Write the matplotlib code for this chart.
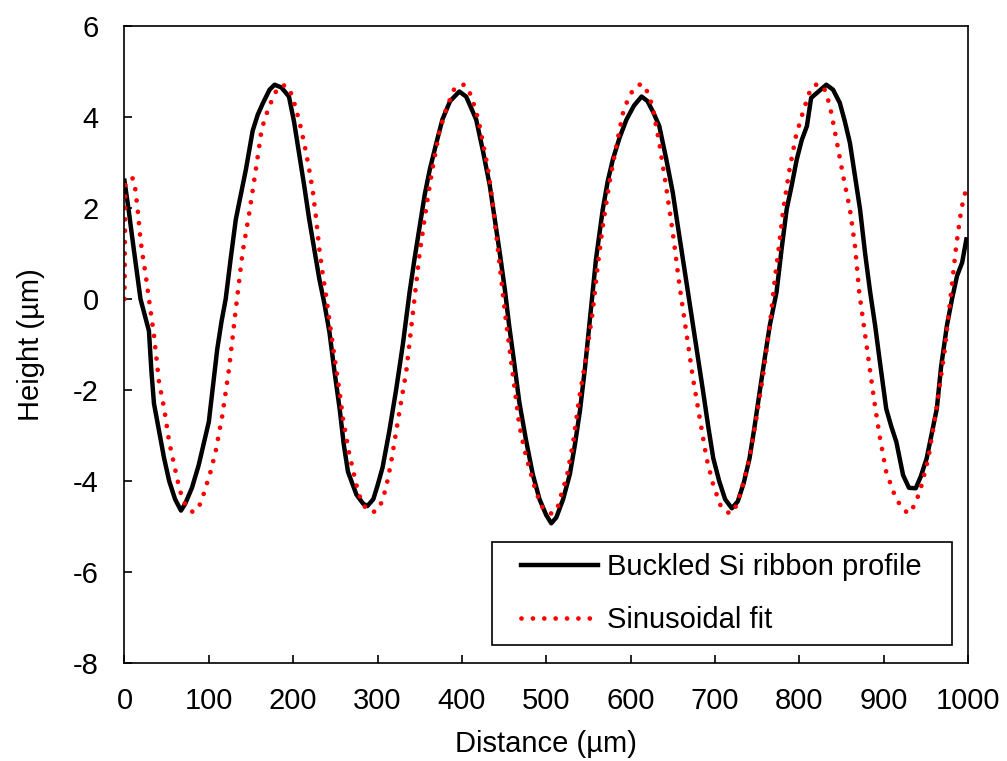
import matplotlib
matplotlib.use("Agg")
import matplotlib.pyplot as plt
from matplotlib.patches import Rectangle

plt.rcParams["font.family"] = ["Liberation Sans", "DejaVu Sans"]
plt.rcParams["axes.unicode_minus"] = False

profile_x = [0, 5, 11, 19, 29, 32, 35, 41, 47, 53, 60, 67, 72, 80, 88, 95, 100,
             105, 110, 115, 120, 126, 132, 138, 144, 152, 158, 164, 172, 178,
             186, 195, 201, 207, 213, 219, 225, 231, 237, 243, 249, 255, 260,
             265, 275, 283, 288, 295, 300, 306, 314, 322, 330, 338, 344, 350,
             356, 362, 370, 377, 386, 397, 405, 411, 417, 425, 433, 439, 445,
             451, 456, 462, 468, 476, 484, 492, 500, 506, 512, 520, 528, 534,
             540, 546, 551, 559, 567, 573, 579, 587, 595, 604, 613, 620, 627,
             634, 642, 650, 656, 662, 668, 674, 680, 686, 692, 698, 705, 712,
             720, 727, 734, 741, 747, 753, 759, 765, 773, 779, 785, 791, 797,
             803, 809, 814, 822, 832, 840, 848, 854, 860, 866, 872, 878, 884,
             890, 895, 903, 909, 915, 919, 923, 930, 938, 944, 951, 957, 963,
             968, 975, 981, 987, 993, 998]
profile_y = [2.6, 1.95, 1.1, 0.0, -0.7, -1.6, -2.3, -2.9, -3.5, -4.0, -4.4,
             -4.65, -4.5, -4.15, -3.65, -3.1, -2.7, -1.9, -1.1, -0.5, 0.0, 0.9,
             1.75, 2.3, 2.85, 3.7, 4.05, 4.3, 4.6, 4.71, 4.65, 4.45, 3.9, 3.2,
             2.5, 1.75, 1.1, 0.44, -0.1, -0.73, -1.6, -2.4, -3.2, -3.8, -4.3,
             -4.5, -4.55, -4.4, -4.1, -3.7, -2.9, -2.0, -1.0, 0.15, 0.9, 1.6,
             2.3, 2.85, 3.45, 3.95, 4.35, 4.56, 4.45, 4.2, 3.94, 3.25, 2.5,
             1.75, 1.0, 0.2, -0.58, -1.4, -2.26, -3.1, -3.85, -4.4, -4.75,
             -4.93, -4.8, -4.4, -3.85, -3.2, -2.45, -1.5, -0.58, 0.88, 1.97,
             2.6, 3.07, 3.55, 3.94, 4.25, 4.45, 4.35, 4.1, 3.8, 3.1, 2.34, 1.6,
             0.88, 0.15, -0.58, -1.3, -2.04, -2.8, -3.5, -4.0, -4.4, -4.6,
             -4.45, -4.05, -3.5, -2.8, -2.04, -1.3, -0.58, 0.15, 1.1, 1.97,
             2.5, 3.07, 3.5, 3.8, 4.42, 4.55, 4.71, 4.6, 4.31, 3.9, 3.43, 2.7,
             1.97, 1.0, 0.15, -0.6, -1.31, -2.41, -2.8, -3.14, -3.5, -3.87,
             -4.15, -4.16, -3.9, -3.5, -2.95, -2.41, -1.5, -0.58, 0.0, 0.51,
             0.8, 1.31]

# ── Sinusoidal fit ───────────────────────────────────────────────────────────
fit_x = [0, 1, 5, 10, 13, 16, 19, 22, 25, 29, 35, 41, 47, 53, 59, 65, 70, 76,
         81, 87, 92, 96, 102, 108, 116, 124, 132, 140, 148, 156, 162, 166, 172,
         181, 187, 193, 198, 203, 208, 213, 218, 223, 227, 231, 235, 239, 247,
         255, 259, 266, 275, 280, 286, 292, 298, 304, 310, 316, 322, 328, 334,
         342, 350, 358, 365, 373, 381, 391, 397, 403, 409, 415, 420, 425, 431,
         436, 444, 452, 460, 468, 474, 480, 488, 496, 502, 508, 514, 520, 524,
         532, 539, 547, 555, 561, 567, 575, 583, 591, 597, 603, 609, 614, 620,
         626, 634, 642, 650, 658, 666, 674, 682, 690, 698, 707, 713, 719, 725,
         731, 741, 749, 757, 765, 771, 775, 781, 788, 796, 804, 813, 818, 824,
         830, 836, 844, 852, 860, 866, 871, 877, 883, 889, 895, 903, 913, 920,
         929, 936, 943, 953, 962, 972, 980, 986, 992, 999]
fit_y = [0.0, 2.5, 2.65, 2.65, 2.4, 1.9, 1.3, 0.9, 0.55, 0.0, -0.8, -1.83,
         -2.4, -3.14, -3.65, -4.16, -4.45, -4.62, -4.68, -4.62, -4.4, -4.16,
         -3.8, -3.36, -2.56, -1.53, -0.22, 1.02, 1.9, 2.88, 3.65, 3.95, 4.25,
         4.62, 4.7, 4.68, 4.5, 4.2, 3.85, 3.43, 2.95, 2.41, 1.8, 1.1, 0.55,
         0.07, -1.02, -2.04, -2.63, -3.36, -4.09, -4.4, -4.6, -4.68, -4.67,
         -4.5, -4.16, -3.6, -2.92, -2.25, -1.6, -0.29, 1.02, 2.04, 2.85, 3.65,
         4.16, 4.62, 4.7, 4.71, 4.55, 4.23, 3.9, 3.43, 2.85, 2.19, 0.88,
         -0.44, -1.6, -2.77, -3.3, -3.72, -4.25, -4.6, -4.7, -4.72, -4.55,
         -4.15, -3.94, -3.14, -2.19, -1.31, -0.29, 0.73, 1.6, 2.56, 3.36,
         4.09, 4.4, 4.6, 4.7, 4.73, 4.55, 4.23, 3.43, 2.48, 1.46, 0.29, -0.73,
         -1.75, -2.63, -3.5, -4.09, -4.56, -4.67, -4.72, -4.55, -4.23, -3.5,
         -2.63, -1.68, -0.58, 0.44, 1.02, 1.97, 2.81, 3.58, 4.09, 4.6, 4.7,
         4.73, 4.6, 4.27, 3.5, 2.7, 1.97, 1.17, 0.15, -0.66, -1.46, -2.26,
         -2.99, -3.8, -4.31, -4.55, -4.72, -4.55, -4.23, -3.5, -2.48, -1.17,
         0.15, 1.17, 1.97, 2.52]

x_ticks = [0, 100, 200, 300, 400, 500, 600, 700, 800, 900, 1000]
y_ticks = [-8, -6, -4, -2, 0, 2, 4, 6]

FS = 21

fig = plt.figure(figsize=(10.07, 7.61), dpi=100)
ax = fig.add_axes([0.1236, 0.1288, 0.8377, 0.837])

ax.plot(profile_x, profile_y, color="black", lw=3.2,
        solid_joinstyle="round", label="Buckled Si ribbon profile")
ax.plot(fit_x, fit_y, color="#ff0000", lw=3.4,
        linestyle=(0, (0.01, 2.4)), dash_capstyle="round",
        label="Sinusoidal fit")

ax.set_xlim(0, 1000)
ax.set_ylim(-8, 6)
ax.set_xticks(x_ticks)
ax.set_yticks(y_ticks)
ax.tick_params(direction="in", length=6, width=1.2, labelsize=FS)
ax.tick_params(axis="x", pad=17)
ax.tick_params(axis="y", pad=18.5)
for s in ax.spines.values():
    s.set_linewidth(1.2)

ax.set_xlabel("Distance (µm)", fontsize=FS, labelpad=11)
ax.set_ylabel("Height (µm)", fontsize=FS, labelpad=20)

# legend text/handles, box drawn separately (wide side margins as in Excel)
ax.legend(loc="center", bbox_to_anchor=(0.708, 0.1089), fontsize=FS,
          frameon=False, handlelength=2.64, handletextpad=0.31,
          labelspacing=0.86, borderpad=0)
ax.add_patch(Rectangle((0.4353, 0.0283), 0.5454, 0.1612,
                       transform=ax.transAxes, fill=False,
                       edgecolor="black", lw=1.2, zorder=4))

plt.savefig("out.png", dpi=100)
plt.close()
